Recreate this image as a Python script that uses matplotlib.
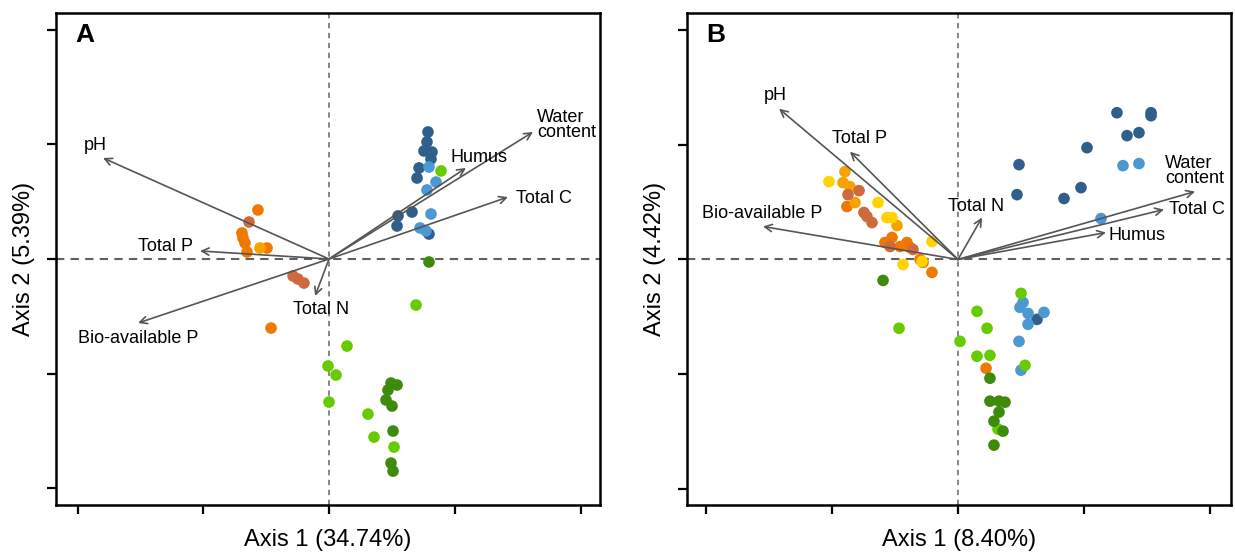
import matplotlib
matplotlib.use("Agg")
import matplotlib.pyplot as plt

plt.rcParams['font.family'] = ['Liberation Sans', 'DejaVu Sans']

# colours of the sample groups
groups = ["orange", "amber", "yellow", "brown", "darkblue", "lightblue", "lightgreen", "darkgreen"]
colors = {
    "orange": "#ef7800",
    "amber": "#f6a200",
    "yellow": "#ffd200",
    "brown": "#cf6a3c",
    "darkblue": "#2f5f8a",
    "lightblue": "#4b98d3",
    "lightgreen": "#66cc00",
    "darkgreen": "#3e8a0a",
}

# ---- panel A: sample scores (axis 1, axis 2)
a_points = {
    "orange": [(-0.565, 0.428), (-0.692, 0.227), (-0.684, 0.183), (-0.668, 0.140),
               (-0.652, 0.061), (-0.493, 0.096), (-0.461, -0.603)],
    "amber": [(-0.549, 0.096)],
    "yellow": [],
    "brown": [(-0.636, 0.323), (-0.286, -0.148), (-0.247, -0.175), (-0.199, -0.210)],
    "darkblue": [(0.787, 1.109), (0.779, 1.022), (0.755, 0.943), (0.819, 0.934),
                 (0.811, 0.873), (0.716, 0.795), (0.700, 0.707), (0.660, 0.410),
                 (0.549, 0.376), (0.541, 0.288), (0.795, 0.218)],
    "lightblue": [(0.795, 0.803), (0.851, 0.672), (0.779, 0.603), (0.811, 0.393),
                  (0.724, 0.271), (0.771, 0.245)],
    "lightgreen": [(0.891, 0.769), (0.692, -0.402), (0.143, -0.760), (-0.008, -0.934),
                   (0.056, -1.013), (0.000, -1.249), (0.310, -1.354), (0.358, -1.555),
                   (0.517, -1.642)],
    "darkgreen": [(0.795, -0.026), (0.493, -1.083), (0.541, -1.100), (0.469, -1.144),
                  (0.453, -1.231), (0.501, -1.284), (0.509, -1.502), (0.493, -1.782),
                  (0.509, -1.852)],
}

# ---- panel B: sample scores
b_points = {
    "orange": [(-0.883, 0.462), (-0.581, 0.148), (-0.525, 0.192), (-0.461, 0.113),
               (-0.406, 0.148), (-0.382, 0.105), (-0.302, 0.000), (-0.278, -0.026),
               (-0.207, -0.113), (0.223, -0.950)],
    "amber": [(-0.899, 0.767), (-0.914, 0.671), (-0.859, 0.636), (-0.485, 0.296),
              (-0.819, 0.497)],
    "yellow": [(-1.026, 0.680), (-0.636, 0.497), (-0.565, 0.366), (-0.525, 0.366),
               (-0.207, 0.157), (-0.437, -0.044), (-0.286, -0.017)],
    "brown": [(-0.787, 0.601), (-0.875, 0.566), (-0.748, 0.410), (-0.724, 0.375),
              (-0.684, 0.322), (-0.541, 0.113), (-0.358, 0.087)],
    "darkblue": [(1.264, 1.281), (1.535, 1.281), (1.535, 1.255), (1.344, 1.081),
                 (1.439, 1.107), (1.026, 0.976), (0.485, 0.828), (0.469, 0.566),
                 (0.843, 0.532), (0.978, 0.627), (0.628, -0.523)],
    "lightblue": [(1.312, 0.819), (1.439, 0.837), (1.137, 0.357), (0.517, -0.375),
                  (0.493, -0.418), (0.557, -0.471), (0.684, -0.462), (0.557, -0.566),
                  (0.485, -0.715), (0.501, -0.967)],
    "lightgreen": [(-0.469, -0.601), (0.016, -0.715), (0.151, -0.453), (0.231, -0.601),
                   (0.151, -0.845), (0.254, -0.837), (0.501, -0.296), (0.533, -0.924),
                   (0.318, -1.481)],
    "darkgreen": [(-0.596, -0.183), (0.254, -1.037), (0.254, -1.237), (0.326, -1.237),
                  (0.374, -1.246), (0.326, -1.333), (0.286, -1.412), (0.358, -1.499),
                  (0.286, -1.621)],
}

# ---- environmental vectors (arrow tips)
variables = ["pH", "Total P", "Bio-available P", "Total N", "Humus", "Water\ncontent", "Total C"]
a_vectors = [(-1.797, 0.882), (-1.026, 0.070), (-1.519, -0.559), (-0.111, -0.323),
             (1.089, 0.795), (1.622, 1.109), (1.423, 0.541)]
b_vectors = [(-1.423, 1.316), (-0.859, 0.941), (-1.551, 0.288), (0.191, 0.366),
             (1.177, 0.235), (1.885, 0.593), (1.638, 0.436)]

# label placement (position, horizontal alignment)
a_labels = [((-1.861, 0.987), "center"), ((-1.082, 0.105), "right"),
            ((-1.519, -0.690), "center"), ((-0.064, -0.445), "center"),
            ((1.193, 0.882), "center"), ((1.654, 1.170), "left"),
            ((1.487, 0.524), "left")]
b_labels = [((-1.455, 1.429), "center"), ((-0.787, 1.054), "center"),
            ((-1.559, 0.401), "center"), ((0.143, 0.462), "center"),
            ((1.193, 0.209), "left"), ((1.646, 0.776), "left"),
            ((1.678, 0.436), "left")]

panels = [
    ("A", a_points, a_vectors, a_labels, "Axis 1 (34.74%)", "Axis 2 (5.39%)",
     (-2.171, 2.155), (-2.148, 2.151)),
    ("B", b_points, b_vectors, b_labels, "Axis 1 (8.40%)", "Axis 2 (4.42%)",
     (-2.155, 2.171), (-2.144, 2.155)),
]

fig = plt.figure(figsize=(12.35, 5.52), dpi=100)
lefts = [56 / 1235, 687 / 1235]

for (tag, pts, vecs, labs, xl, yl, xlim, ylim), left in zip(panels, lefts):
    ax = fig.add_axes([left, 0.0851, 0.4405, 0.892])

    for g in groups:
        if pts[g]:
            xs = [p[0] for p in pts[g]]
            ys = [p[1] for p in pts[g]]
            ax.scatter(xs, ys, s=70, color=colors[g], edgecolors="none", zorder=3)

    ax.axhline(0, color="#606060", lw=1.5, ls=(0, (4, 3)), zorder=1)
    ax.axvline(0, color="#666666", lw=1.1, ls=(0, (3.5, 3)), zorder=1)

    for name, (vx, vy), ((lx, ly), ha) in zip(variables, vecs, labs):
        ax.annotate("", xy=(vx, vy), xytext=(0, 0),
                    arrowprops=dict(arrowstyle="->", color="#555555", lw=1.2,
                                    mutation_scale=13, shrinkA=0, shrinkB=0),
                    zorder=4)
        ax.text(lx, ly, name, ha=ha, va="center", fontsize=13, color="black",
                linespacing=0.85, zorder=5)

    ax.text(0.035, 0.954, tag, transform=ax.transAxes, fontsize=19,
            fontweight="bold", ha="left", va="center")

    ax.set_xlim(*xlim)
    ax.set_ylim(*ylim)
    ax.set_xticks([-2, -1, 0, 1, 2])
    ax.set_yticks([-2, -1, 0, 1, 2])
    ax.set_xticklabels([])
    ax.set_yticklabels([])
    ax.tick_params(length=6.5, width=1.6, color="black")
    for sp in ax.spines.values():
        sp.set_linewidth(1.8)
    ax.set_xlabel(xl, fontsize=17, labelpad=7)
    ax.set_ylabel(yl, fontsize=17, labelpad=5)

fig.savefig("out.png", dpi=100)
